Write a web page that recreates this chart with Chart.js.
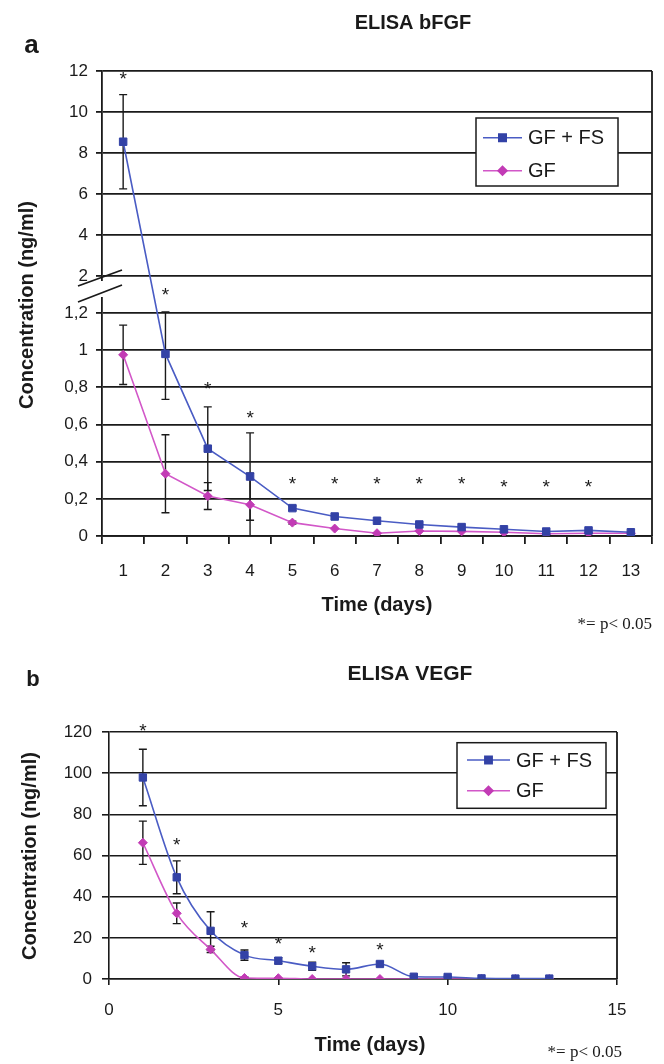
<!DOCTYPE html>
<html><head><meta charset="utf-8">
<script src="https://cdn.jsdelivr.net/npm/chart.js@4.4.0/dist/chart.umd.min.js"></script>
<style>
html,body{margin:0;padding:0;background:#fff;}
#wrap{position:relative;width:664px;height:1064px;overflow:hidden;}
canvas{position:absolute;left:0;}
</style></head><body>
<div id="wrap">
<canvas id="cA" width="664" height="640" style="top:0"></canvas>
<canvas id="cB" width="664" height="424" style="top:640px"></canvas>
</div>
<script>
// ---------- DATA: chart a (ELISA bFGF) ----------
const daysA = [1,2,3,4,5,6,7,8,9,10,11,12,13];
const yTicksA = [0,0.2,0.4,0.6,0.8,1,1.2,2,4,6,8,10,12];
const fgfGFFS    = [8.55,0.98,0.47,0.32,0.15,0.105,0.082,0.062,0.048,0.036,0.024,0.03,0.02];
const fgfGFFSErr = [2.3,0.245,0.225,0.235,0.012,0,0,0,0,0,0,0,0];
const fgfGF      = [0.975,0.335,0.215,0.168,0.072,0.04,0.015,0.027,0.025,0.02,0.012,0.015,0.015];
const fgfGFErr   = [0.16,0.21,0.072,0.17,0.008,0,0,0,0,0,0,0,0];
const fgfSig     = [11.83,1.70,0.82,0.664,0.307,0.307,0.307,0.307,0.307,0.292,0.292,0.292,null];

// ---------- DATA: chart b (ELISA VEGF) ----------
const daysB = [1,2,3,4,5,6,7,8,9,10,11,12,13];
const xTicksB = [0,5,10,15];
const yTicksB = [0,20,40,60,80,100,120];
const vegfGFFS    = [97.9,49.4,23.4,11.6,8.9,6.2,4.7,7.3,1.1,1.0,0.3,0.2,0.2];
const vegfGFFSErr = [13.7,8,9.3,2.5,1.5,2,3.2,1,0.5,0.3,0,0,0];
const vegfGF      = [66.2,31.9,14.4,0.5,0.4,0,0,0,0,0,0,0,0];
const vegfGFErr   = [10.5,5,1.5,0.5,0,0,0,0,0,0,0,0,0];
const vegfSig     = [122.8,67.5,null,27.3,19.3,14.9,null,16.5,null,null,null,null,null];

const seriesNames = ['GF + FS','GF'];

// ---------- styling ----------
const BLUE_PT = '#3342a6', BLUE_LN = '#4a5cc4';
const MAG_PT = '#c23bb5', MAG_LN = '#d257c8';
const INK = '#1a1a1a';
const SANS = "'Liberation Sans', Arial, sans-serif";
const SERIF = "'Liberation Serif', 'Times New Roman', serif";

// ---------- broken axis scale for chart a ----------
const BRK_LO = 1.2, BRK_HI = 2, A_MAX = 12;
const F_LO = 223/465, F_HI = 260/465;
function brokenFrac(v){
  if (v <= BRK_LO) return v / BRK_LO * F_LO;
  if (v <= BRK_HI) return F_LO + (v - BRK_LO) / (BRK_HI - BRK_LO) * (F_HI - F_LO);
  return F_HI + (v - BRK_HI) / (A_MAX - BRK_HI) * (1 - F_HI);
}
function brokenInv(f){
  if (f <= F_LO) return f / F_LO * BRK_LO;
  if (f <= F_HI) return BRK_LO + (f - F_LO) / (F_HI - F_LO) * (BRK_HI - BRK_LO);
  return BRK_HI + (f - F_HI) / (1 - F_HI) * (A_MAX - BRK_HI);
}
class BrokenScale extends Chart.LinearScale {
  static id = 'broken';
  buildTicks(){ return yTicksA.map(v => ({value: v})); }
  getPixelForValue(v){ return this.getPixelForDecimal(brokenFrac(v)); }
  getValueForPixel(p){ return brokenInv(this.getDecimalForPixel(p)); }
}
Chart.register(BrokenScale);

// ---------- plugins ----------
function errorBarPlugin(sets){
  return { id:'errbars', beforeDatasetsDraw(chart){
    const ctx = chart.ctx, ca = chart.chartArea, ys = chart.scales.y;
    ctx.save();
    ctx.beginPath(); ctx.rect(ca.left, ca.top - 30, ca.right - ca.left, ca.bottom - ca.top + 30); ctx.clip();
    ctx.strokeStyle = INK; ctx.lineWidth = 1.4;
    sets.forEach((s, di) => {
      const meta = chart.getDatasetMeta(di);
      meta.data.forEach((pt, i) => {
        const e = s.err[i]; if (!e) return;
        const v = s.val[i];
        const yt = ys.getPixelForValue(v + e), yb = ys.getPixelForValue(v - e);
        const x = pt.x;
        ctx.beginPath();
        ctx.moveTo(x, yt); ctx.lineTo(x, yb);
        ctx.moveTo(x - 4, yt); ctx.lineTo(x + 4, yt);
        ctx.moveTo(x - 4, yb); ctx.lineTo(x + 4, yb);
        ctx.stroke();
      });
    });
    ctx.restore();
  }};
}
function sigPlugin(sig, xAt){
  return { id:'sig', afterDraw(chart){
    const ctx = chart.ctx, ys = chart.scales.y;
    ctx.save();
    ctx.font = '19px ' + SANS; ctx.fillStyle = INK;
    ctx.textAlign = 'center'; ctx.textBaseline = 'alphabetic';
    sig.forEach((v, i) => {
      if (v == null) return;
      const x = xAt(chart, i), y = ys.getPixelForValue(v);
      ctx.fillText('*', x, y + 11);
    });
    ctx.restore();
  }};
}
function legendPlugin(cfg){
  return { id:'boxlegend', afterDraw(chart){
    const ctx = chart.ctx;
    ctx.save();
    ctx.fillStyle = '#fff'; ctx.strokeStyle = INK; ctx.lineWidth = 1.5;
    ctx.fillRect(cfg.l, cfg.t, cfg.r - cfg.l, cfg.b - cfg.t);
    ctx.strokeRect(cfg.l, cfg.t, cfg.r - cfg.l, cfg.b - cfg.t);
    chart.data.datasets.forEach((ds, i) => {
      const y = cfg.rows[i];
      ctx.strokeStyle = ds.borderColor; ctx.lineWidth = 1.5;
      ctx.beginPath(); ctx.moveTo(cfg.x1, y); ctx.lineTo(cfg.x2, y); ctx.stroke();
      ctx.fillStyle = ds.pointBackgroundColor; ctx.strokeStyle = ds.pointBorderColor;
      Chart.helpers.drawPoint(ctx, {pointStyle: ds.pointStyle, radius: ds.pointRadius, rotation: 0, borderWidth: 1}, (cfg.x1 + cfg.x2) / 2, y);
      ctx.fillStyle = INK; ctx.font = '20px ' + SANS; ctx.textAlign = 'left'; ctx.textBaseline = 'middle';
      ctx.fillText(ds.label, cfg.tx, y + 1);
    });
    ctx.restore();
  }};
}
function textPlugin(items){
  return { id:'texts', afterDraw(chart){
    const ctx = chart.ctx;
    items.forEach(it => {
      ctx.save();
      ctx.font = it.font; ctx.fillStyle = INK;
      ctx.textAlign = it.align || 'center'; ctx.textBaseline = 'middle';
      ctx.translate(it.x, it.y);
      if (it.rot) ctx.rotate(it.rot);
      ctx.fillText(it.text, 0, 0);
      ctx.restore();
    });
  }};
}
const rightBorder = { id:'rborder', beforeDatasetsDraw(chart){
  const ctx = chart.ctx, ca = chart.chartArea;
  ctx.save(); ctx.strokeStyle = INK; ctx.lineWidth = 1.8;
  ctx.beginPath(); ctx.moveTo(ca.right, ca.top); ctx.lineTo(ca.right, ca.bottom); ctx.stroke();
  ctx.restore();
}};
const breakMarks = { id:'breakmarks', afterDraw(chart){
  const ctx = chart.ctx, ca = chart.chartArea;
  ctx.save();
  ctx.fillStyle = '#fff'; ctx.fillRect(ca.left - 3, 281, 6, 16);
  ctx.strokeStyle = INK; ctx.lineWidth = 1.8;
  ctx.beginPath();
  ctx.moveTo(78, 286); ctx.lineTo(122, 270);
  ctx.moveTo(78, 302); ctx.lineTo(122, 285);
  ctx.stroke();
  ctx.restore();
}};

function dsStyle(name, ptColor, lnColor, style, r){
  return { label: name, borderColor: lnColor, backgroundColor: ptColor, borderWidth: 1.6,
    pointStyle: style, pointRadius: r, pointHoverRadius: r, pointBackgroundColor: ptColor,
    pointBorderColor: ptColor, pointBorderWidth: 1 };
}

// ---------- chart a ----------
new Chart(document.getElementById('cA'), {
  type: 'line',
  data: {
    labels: daysA.map(String),
    datasets: [
      Object.assign(dsStyle(seriesNames[0], BLUE_PT, BLUE_LN, 'rect', 5.3), {data: fgfGFFS, tension: 0}),
      Object.assign(dsStyle(seriesNames[1], MAG_PT, MAG_LN, 'rectRot', 4.5), {data: fgfGF, tension: 0})
    ]
  },
  options: {
    responsive: false, animation: false, devicePixelRatio: 1,
    layout: { padding: { top: 71, right: 12, bottom: 0, left: 0 } },
    plugins: { legend: { display: false }, tooltip: { enabled: false }, title: { display: false } },
    scales: {
      x: {
        type: 'category', offset: true,
        grid: { drawOnChartArea: false, offset: true, tickLength: 8, color: INK, lineWidth: 1.8 },
        border: { color: INK, width: 1.8 },
        ticks: { color: INK, font: { family: SANS, size: 17 }, padding: 17, maxRotation: 0 },
        afterFit(s){ s.height = 104; }
      },
      y: {
        type: 'broken', min: 0, max: 12,
        grid: { color: INK, lineWidth: 1.8, tickLength: 6 },
        border: { color: INK, width: 1.8 },
        ticks: { color: INK, font: { family: SANS, size: 17 }, padding: 8,
          callback: v => String(v).replace('.', ',') },
        afterFit(s){ s.width = 102; }
      }
    }
  },
  plugins: [
    rightBorder,
    errorBarPlugin([{val: fgfGFFS, err: fgfGFFSErr}, {val: fgfGF, err: fgfGFErr}]),
    breakMarks,
    sigPlugin(fgfSig, (c, i) => c.scales.x.getPixelForValue(i)),
    legendPlugin({l: 476, t: 118, r: 618, b: 186, rows: [137.7, 170.7], x1: 483, x2: 522, tx: 528}),
    textPlugin([
      {text: 'a', x: 31.5, y: 46, font: 'bold 26px ' + SANS},
      {text: 'ELISA bFGF', x: 413, y: 23, font: 'bold 20px ' + SANS},
      {text: 'Time (days)', x: 377, y: 605, font: 'bold 20px ' + SANS},
      {text: '*= p< 0.05', x: 652, y: 625, align: 'right', font: '17px ' + SERIF},
      {text: 'Concentration (ng/ml)', x: 27.5, y: 305, rot: -Math.PI / 2, font: 'bold 20px ' + SANS}
    ])
  ]
});

// ---------- chart b ----------
new Chart(document.getElementById('cB'), {
  type: 'line',
  data: {
    datasets: [
      Object.assign(dsStyle(seriesNames[0], BLUE_PT, BLUE_LN, 'rect', 5.2),
        {data: daysB.map((d, i) => ({x: d, y: vegfGFFS[i]})), cubicInterpolationMode: 'monotone'}),
      Object.assign(dsStyle(seriesNames[1], MAG_PT, MAG_LN, 'rectRot', 4.5),
        {data: daysB.map((d, i) => ({x: d, y: vegfGF[i]})), cubicInterpolationMode: 'monotone'})
    ]
  },
  options: {
    responsive: false, animation: false, devicePixelRatio: 1,
    layout: { padding: { top: 92, right: 47, bottom: 0, left: 0 } },
    plugins: { legend: { display: false }, tooltip: { enabled: false }, title: { display: false } },
    scales: {
      x: {
        type: 'linear', min: xTicksB[0], max: xTicksB[xTicksB.length - 1],
        afterBuildTicks(s){ s.ticks = xTicksB.map(v => ({value: v})); },
        grid: { drawOnChartArea: false, tickLength: 6, color: INK, lineWidth: 1.6 },
        border: { color: INK, width: 1.6 },
        ticks: { color: INK, font: { family: SANS, size: 17 }, padding: 15, maxRotation: 0 },
        afterFit(s){ s.height = 85; }
      },
      y: {
        type: 'linear', min: yTicksB[0], max: yTicksB[yTicksB.length - 1],
        afterBuildTicks(s){ s.ticks = yTicksB.map(v => ({value: v})); },
        grid: { color: INK, lineWidth: 1.6, tickLength: 7 },
        border: { color: INK, width: 1.6 },
        ticks: { color: INK, font: { family: SANS, size: 17 }, padding: 10 },
        afterFit(s){ s.width = 109; }
      }
    }
  },
  plugins: [
    rightBorder,
    errorBarPlugin([{val: vegfGFFS, err: vegfGFFSErr}, {val: vegfGF, err: vegfGFErr}]),
    sigPlugin(vegfSig, (c, i) => c.scales.x.getPixelForValue(daysB[i])),
    legendPlugin({l: 457, t: 102.7, r: 606, b: 168.3, rows: [120, 150.7], x1: 467, x2: 510, tx: 516}),
    textPlugin([
      {text: 'b', x: 33, y: 40, font: 'bold 22px ' + SANS},
      {text: 'ELISA VEGF', x: 410, y: 34, font: 'bold 21px ' + SANS},
      {text: 'Time (days)', x: 370, y: 405, font: 'bold 20px ' + SANS},
      {text: '*= p< 0.05', x: 622, y: 413, align: 'right', font: '17px ' + SERIF},
      {text: 'Concentration (ng/ml)', x: 30, y: 216, rot: -Math.PI / 2, font: 'bold 20px ' + SANS}
    ])
  ]
});
</script>
</body></html>
